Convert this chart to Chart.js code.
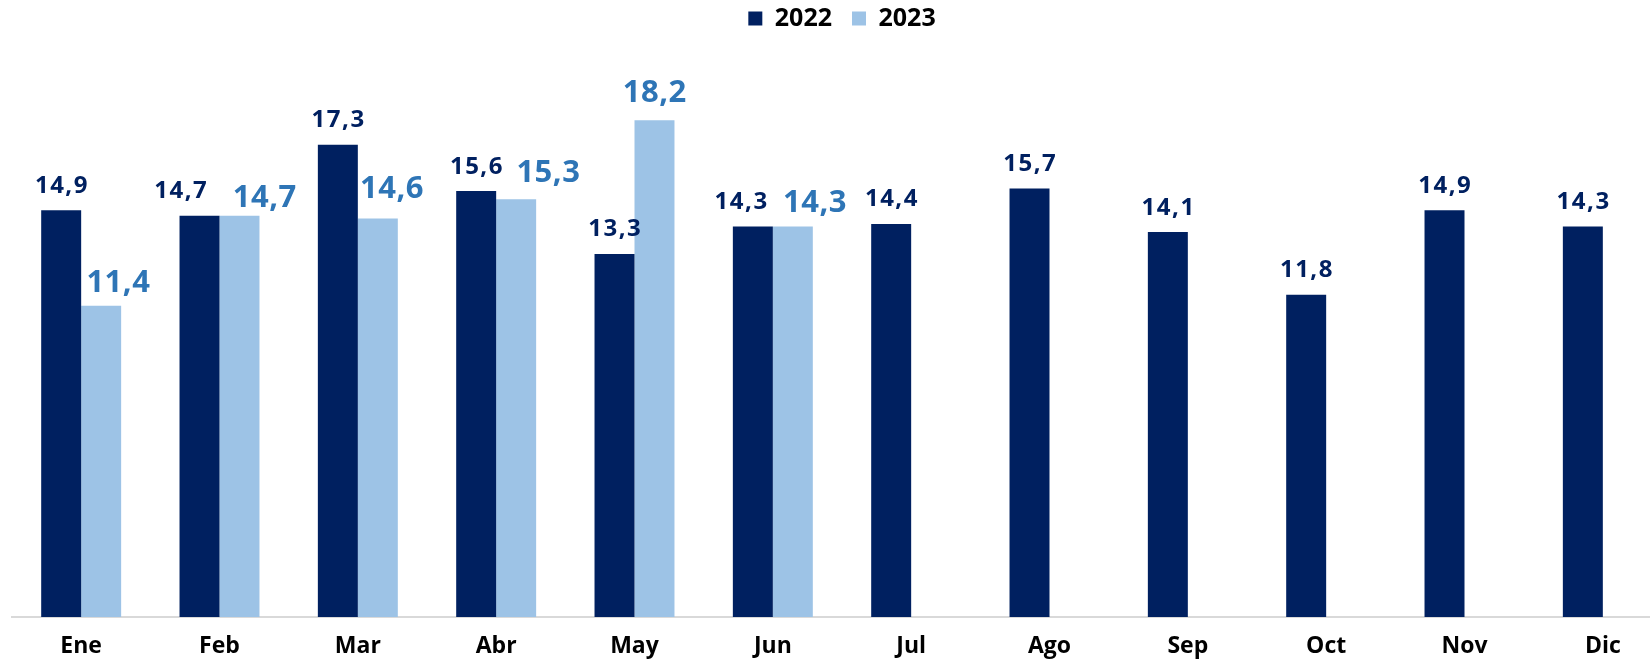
<!DOCTYPE html>
<html>
<head>
<meta charset="utf-8">
<script src="https://cdn.jsdelivr.net/npm/chart.js@4.4.1/dist/chart.umd.min.js"></script>
<style>
  html, body { margin: 0; padding: 0; background: #fff; overflow: hidden; }
  #wrap { width: 1684px; height: 662px; }
</style>
</head>
<body>
<div id="wrap"><canvas id="chart"></canvas></div>
<script>
const meses = ['Ene', 'Feb', 'Mar', 'Abr', 'May', 'Jun', 'Jul', 'Ago', 'Sep', 'Oct', 'Nov', 'Dic'];
const valores2022 = [14.9, 14.7, 17.3, 15.6, 13.3, 14.3, 14.4, 15.7, 14.1, 11.8, 14.9, 14.3];
const valores2023 = [11.4, 14.7, 14.6, 15.3, 18.2, 14.3, null, null, null, null, null, null];

const azulOscuro = '#002060';
const azulClaro = '#9DC3E6';
const azulTexto = '#2E75B6';

// desplazamiento manual de etiquetas (px), como en el original
const ajusteX2022 = [0, -19, 0, 0, 0, -12, 0, 0, 0, 0, 0, 0];
const ajusteX2023 = [17, 25, 14, 32, 0, 22];
const separacion2023 = [14, 9, 20, 17, 18, 15];

// Etiquetas de valor encima de las barras
const etiquetasPlugin = {
  id: 'etiquetas',
  afterDatasetsDraw(chart) {
    const ctx = chart.ctx;
    chart.data.datasets.forEach((ds, i) => {
      const meta = chart.getDatasetMeta(i);
      const et = ds.etiqueta;
      ctx.save();
      ctx.font = et.font;
      ctx.letterSpacing = et.espacio + 'px';
      ctx.fillStyle = et.color;
      ctx.textAlign = 'center';
      ctx.textBaseline = 'alphabetic';
      meta.data.forEach((bar, j) => {
        const v = ds.data[j];
        if (v === null) return;
        const dx = (et.dx[j] || 0) + et.espacio / 2;
        const gap = Array.isArray(et.gap) ? et.gap[j] : et.gap;
        ctx.fillText(v.toFixed(1).replace('.', ','), bar.x + dx, bar.y - gap);
      });
      ctx.restore();
    });
  }
};

// espacio extra entre la leyenda y el área del gráfico
const leyendaPlugin = {
  id: 'leyendaAlto',
  beforeInit(chart) {
    const fitOriginal = chart.legend.fit;
    chart.legend.fit = function () {
      fitOriginal.bind(chart.legend)();
      this.height += 30;
    };
  }
};

new Chart(document.getElementById('chart'), {
  type: 'bar',
  data: {
    labels: meses,
    datasets: [{
      label: '2022',
      data: valores2022,
      backgroundColor: azulOscuro,
      etiqueta: { font: 'bold 24px "Open Sans"', espacio: 1.5, color: azulOscuro, gap: 17.5, dx: ajusteX2022 }
    }, {
      label: '2023',
      data: valores2023,
      backgroundColor: azulClaro,
      etiqueta: { font: 'bold 31px "Open Sans"', espacio: 0.5, color: azulTexto, gap: separacion2023, dx: ajusteX2023 }
    }]
  },
  options: {
    responsive: true,
    maintainAspectRatio: false,
    animation: false,
    layout: { padding: { left: 12, right: 12, top: -14, bottom: 0 } },
    datasets: { bar: { categoryPercentage: 0.578, barPercentage: 1 } },
    plugins: {
      legend: {
        position: 'top',
        labels: {
          boxWidth: 14,
          boxHeight: 14,
          padding: 20,
          color: '#000',
          font: { family: 'Open Sans', size: 25, weight: 'bold' }
        }
      },
      tooltip: { enabled: false }
    },
    scales: {
      x: {
        grid: { display: false },
        border: { color: '#D9D9D9', width: 2 },
        ticks: {
          color: '#000',
          padding: 8,
          font: { family: 'Open Sans', size: 23, weight: 'bold' }
        },
        afterFit(scale) { scale.height = 45; }
      },
      y: {
        display: false,
        min: 0,
        max: 20
      }
    }
  },
  plugins: [etiquetasPlugin, leyendaPlugin]
});
</script>
</body>
</html>
